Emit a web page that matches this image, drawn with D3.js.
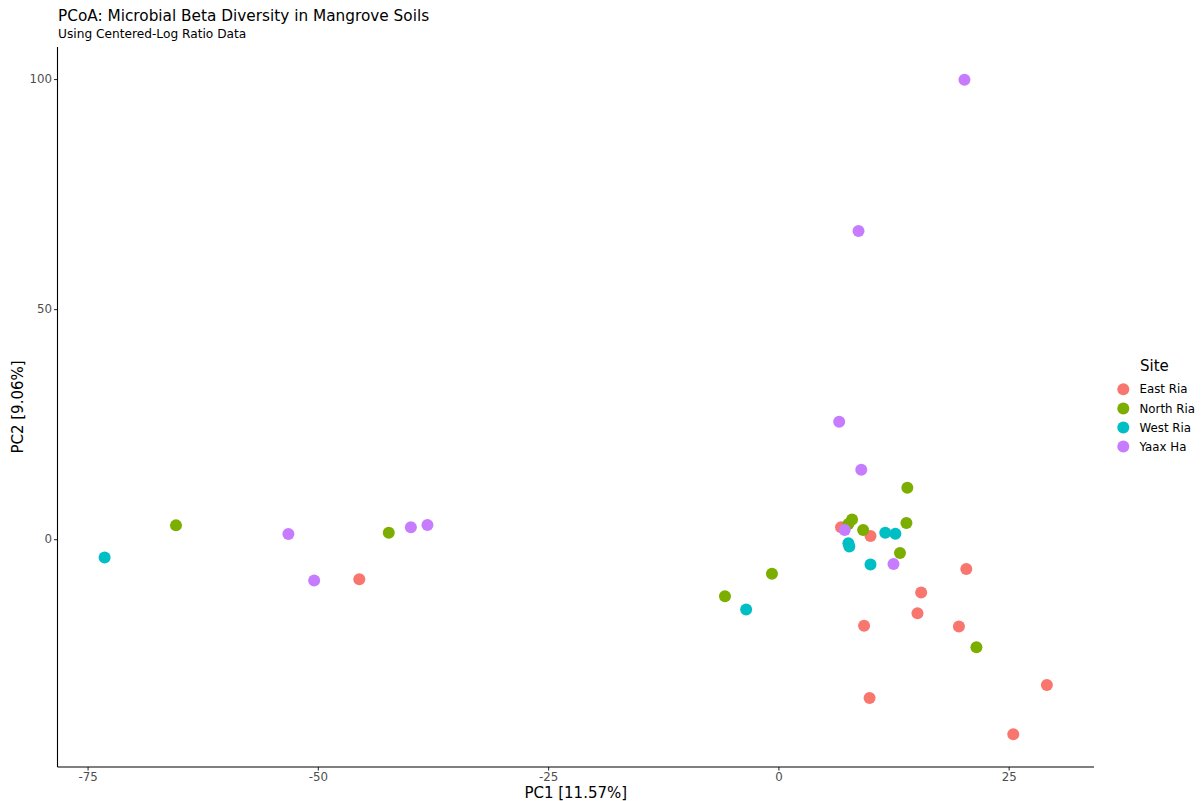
<!DOCTYPE html>
<html>
<head>
<meta charset="utf-8">
<script src="https://cdn.jsdelivr.net/npm/d3@7"></script>
<style>
  body { margin: 0; background: #fff; }
  text { font-family: "DejaVu Sans", sans-serif; }
</style>
</head>
<body>
<div id="chart"></div>
<script>
// data, one array per site: [PC1, PC2]
const sites = ["East Ria", "North Ria", "West Ria", "Yaax Ha"];
const siteColors = ["#F8766D", "#7CAE00", "#00BFC4", "#C77CFF"];

const eastRia = [
  [-45.5, -8.7], [6.8, 2.6], [10.0, 0.7], [20.4, -6.5], [15.5, -11.6],
  [15.1, -16.1], [9.3, -18.8], [19.6, -19.0], [29.15, -31.7], [9.9, -34.5], [25.5, -42.4]
];
const northRia = [
  [-65.4, 3.0], [-42.3, 1.4], [-5.8, -12.4], [-0.7, -7.5], [8.0, 4.3],
  [7.6, 3.3], [9.2, 2.0], [14.0, 11.2], [13.9, 3.5], [13.2, -3.0], [21.5, -23.5]
];
const westRia = [
  [-73.15, -4.0], [-3.5, -15.3], [7.6, -0.9], [7.7, -1.6], [10.0, -5.5],
  [11.6, 1.4], [12.7, 1.2]
];
const yaaxHa = [
  [20.2, 99.85], [8.7, 67.0], [6.6, 25.5], [9.0, 15.1], [7.2, 2.0],
  [12.5, -5.4], [-53.2, 1.1], [-50.4, -9.0], [-39.9, 2.6], [-38.1, 3.1]
];

const xTicks = [-75, -50, -25, 0, 25];
const yTicks = [0, 50, 100];

const title = "PCoA: Microbial Beta Diversity in Mangrove Soils";
const subtitle = "Using Centered-Log Ratio Data";
const xLabel = "PC1 [11.57%]";
const yLabel = "PC2 [9.06%]";

const W = 1203, H = 801;
const margin = { top: 47, right: 109, bottom: 34, left: 57.5 };
const width = W - margin.left - margin.right;
const height = H - margin.top - margin.bottom;

const series = [eastRia, northRia, westRia, yaaxHa];
const points = [];
series.forEach((s, i) => s.forEach(p => points.push({ site: sites[i], x: p[0], y: p[1] })));

// ggplot style 5% expansion
function expand(ext) {
  const pad = (ext[1] - ext[0]) * 0.05;
  return [ext[0] - pad, ext[1] + pad];
}

const x = d3.scaleLinear()
  .domain(expand(d3.extent(points, d => d.x)))
  .range([0, width]);
const y = d3.scaleLinear()
  .domain(expand(d3.extent(points, d => d.y)))
  .range([height, 0]);
const color = d3.scaleOrdinal().domain(sites).range(siteColors);

const svg = d3.select("#chart")
  .append("svg")
  .attr("width", W)
  .attr("height", H);

svg.append("text")
  .attr("x", 58).attr("y", 21)
  .attr("font-size", 15.3).attr("fill", "#000")
  .text(title);
svg.append("text")
  .attr("x", 58).attr("y", 38.3)
  .attr("font-size", 12.2).attr("fill", "#000")
  .text(subtitle);

const g = svg.append("g")
  .attr("transform", "translate(" + margin.left + "," + margin.top + ")");

// plain hyphen for negatives, like R does
const fmt = d => String(d);

// axes (domain paths removed, lines drawn below)
const xAxis = g.append("g")
  .attr("transform", "translate(0," + height + ")")
  .call(d3.axisBottom(x).tickValues(xTicks).tickFormat(fmt).tickSizeOuter(0).tickSize(3.5).tickPadding(2));
const yAxis = g.append("g")
  .call(d3.axisLeft(y).tickValues(yTicks).tickFormat(fmt).tickSizeOuter(0).tickSize(3.5).tickPadding(2));

[xAxis, yAxis].forEach(a => {
  a.select(".domain").remove();
  a.selectAll(".tick line").attr("stroke", "#333").attr("stroke-width", 1.1);
  a.selectAll(".tick text")
    .attr("font-family", "DejaVu Sans, sans-serif")
    .attr("font-size", 11.8)
    .attr("fill", "#4d4d4d");
});

g.append("line")
  .attr("x1", 0).attr("x2", width)
  .attr("y1", height).attr("y2", height)
  .attr("stroke", "#000").attr("stroke-width", 1.1);
g.append("line")
  .attr("x1", 0).attr("x2", 0)
  .attr("y1", 0).attr("y2", height)
  .attr("stroke", "#000").attr("stroke-width", 1.1);

// points
g.selectAll("circle.pt")
  .data(points)
  .join("circle")
  .attr("class", "pt")
  .attr("cx", d => x(d.x))
  .attr("cy", d => y(d.y))
  .attr("r", 6)
  .attr("fill", d => color(d.site));

// axis titles
svg.append("text")
  .attr("x", margin.left + width / 2).attr("y", 798)
  .attr("text-anchor", "middle")
  .attr("font-size", 15).attr("fill", "#000")
  .text(xLabel);
svg.append("text")
  .attr("transform", "translate(23," + (margin.top + height / 2) + ") rotate(-90)")
  .attr("text-anchor", "middle")
  .attr("font-size", 15).attr("fill", "#000")
  .text(yLabel);

// legend
const legend = svg.append("g").attr("transform", "translate(1113,0)");
legend.append("text")
  .attr("x", 27).attr("y", 371)
  .attr("font-size", 15).attr("fill", "#000")
  .text("Site");
const items = legend.selectAll("g.item")
  .data(sites)
  .join("g")
  .attr("class", "item")
  .attr("transform", (d, i) => "translate(0," + (389.3 + i * 19.1) + ")");
items.append("circle")
  .attr("cx", 10.3).attr("cy", 0).attr("r", 6)
  .attr("fill", d => color(d));
items.append("text")
  .attr("x", 26.5).attr("y", 0).attr("dy", "0.35em")
  .attr("font-size", 11.8).attr("fill", "#000")
  .text(d => d);
</script>
</body>
</html>
